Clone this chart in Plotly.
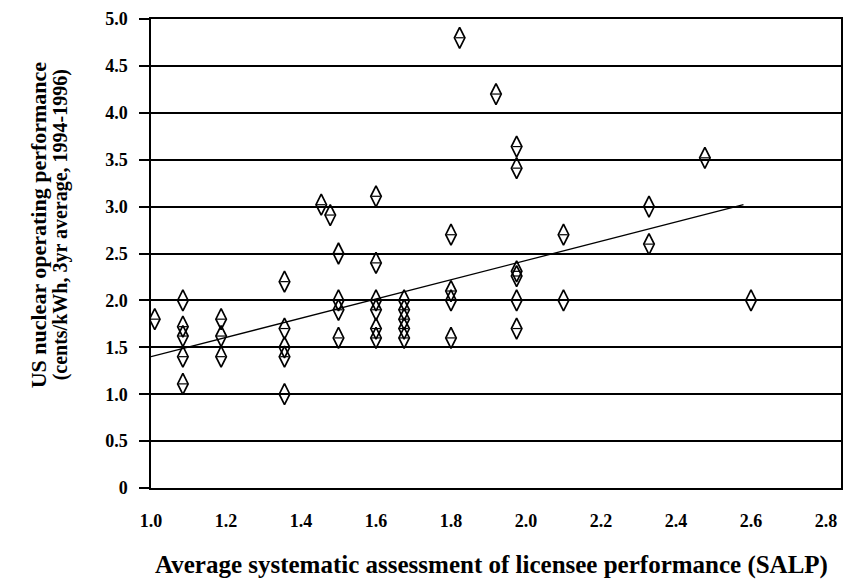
import plotly.graph_objects as go

# SALP score (x) and operating cost (y) for each plant
salp = [1.01,
        1.085, 1.085, 1.085, 1.085, 1.085,
        1.187, 1.187, 1.187,
        1.356, 1.356, 1.356, 1.356, 1.356,
        1.454, 1.478,
        1.50, 1.50, 1.50, 1.50,
        1.60, 1.60, 1.60, 1.60, 1.60, 1.60,
        1.675, 1.675, 1.675, 1.675, 1.675,
        1.80, 1.80, 1.80, 1.80,
        1.823, 1.92,
        1.975, 1.975, 1.975, 1.975, 1.975, 1.975,
        2.10, 2.10,
        2.328, 2.328,
        2.477, 2.60]
cost = [1.80,
        2.00, 1.72, 1.62, 1.40, 1.11,
        1.80, 1.62, 1.40,
        2.20, 1.70, 1.50, 1.40, 1.00,
        3.02, 2.91,
        2.50, 2.00, 1.90, 1.60,
        3.11, 2.40, 2.00, 1.90, 1.70, 1.60,
        2.00, 1.90, 1.80, 1.70, 1.60,
        2.70, 2.10, 2.00, 1.60,
        4.80, 4.20,
        3.64, 3.41, 2.31, 2.26, 2.00, 1.70,
        2.70, 2.00,
        3.00, 2.60,
        3.52, 2.00]

# regression line end points
trend_x = [1.0, 2.58]
trend_y = [1.40, 3.02]

x_ticks = [1.0, 1.2, 1.4, 1.6, 1.8, 2.0, 2.2, 2.4, 2.6, 2.8]
x_labels = ["1.0", "1.2", "1.4", "1.6", "1.8", "2.0", "2.2", "2.4", "2.6", "2.8"]
y_ticks = [0, 0.5, 1.0, 1.5, 2.0, 2.5, 3.0, 3.5, 4.0, 4.5, 5.0]
y_labels = ["0", "0.5", "1.0", "1.5", "2.0", "2.5", "3.0", "3.5", "4.0", "4.5", "5.0"]

y_title_1 = "US nuclear operating performance"
y_title_2 = "(cents/kWh, 3yr average, 1994-1996)"
x_title = "Average systematic assessment of licensee performance (SALP)"

FONT = "Liberation Serif"

fig = go.Figure()
fig.add_trace(go.Scatter(
    x=trend_x, y=trend_y, mode="lines",
    line=dict(color="black", width=1.3), hoverinfo="skip"))
fig.add_trace(go.Scatter(
    x=salp, y=cost, mode="markers",
    marker=dict(symbol="diamond-tall-open", size=15, color="black",
                line=dict(color="black", width=1.7))))
fig.add_trace(go.Scatter(
    x=salp, y=cost, mode="markers",
    marker=dict(symbol="line-ew", size=6, color="black",
                line=dict(color="black", width=1.2))))

fig.update_layout(
    width=845, height=581,
    margin=dict(l=151, r=2, t=19, b=93),
    paper_bgcolor="white", plot_bgcolor="white",
    showlegend=False,
    font=dict(family=FONT, color="black"),
    xaxis=dict(range=[1.0, 2.84], tickvals=x_ticks, ticktext=x_labels,
               showgrid=False, zeroline=False,
               showline=True, linecolor="black", linewidth=1.5, mirror=True,
               ticks="", ticklabelstandoff=16,
               tickfont=dict(family=FONT, size=18, color="black", weight="bold")),
    yaxis=dict(range=[0, 5.0], tickvals=y_ticks, ticktext=y_labels,
               showgrid=True, gridcolor="black", gridwidth=1.5, zeroline=False,
               showline=True, linecolor="black", linewidth=1.5, mirror=True,
               ticks="outside", ticklen=10, tickcolor="black", tickwidth=1.5,
               ticklabelstandoff=8,
               tickfont=dict(family=FONT, size=18, color="black", weight="bold")),
)

fig.add_annotation(text=y_title_1, xref="paper", yref="paper", x=0, y=0.56,
                   xshift=-113, xanchor="center", yanchor="middle",
                   textangle=-90, showarrow=False,
                   font=dict(family=FONT, size=22, color="black", weight="bold"))
fig.add_annotation(text=y_title_2, xref="paper", yref="paper", x=0, y=0.56,
                   xshift=-91, xanchor="center", yanchor="middle",
                   textangle=-90, showarrow=False,
                   font=dict(family=FONT, size=20, color="black", weight="bold"))
fig.add_annotation(text=x_title, xref="paper", yref="paper", x=0.493, y=0,
                   yshift=-77, xanchor="center", yanchor="middle",
                   showarrow=False,
                   font=dict(family=FONT, size=25, color="black", weight="bold"))

fig.write_html("out.html", config={"displayModeBar": False},
               post_script="document.body.style.margin='0';")
